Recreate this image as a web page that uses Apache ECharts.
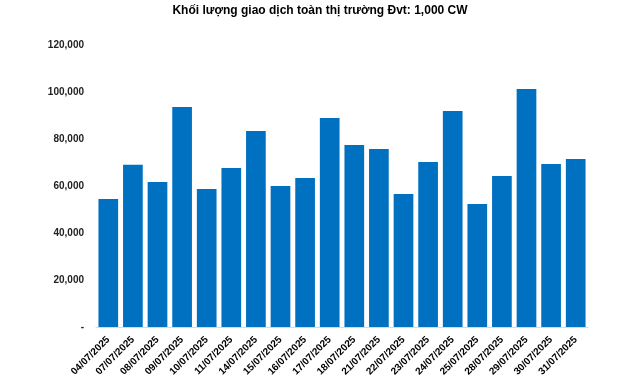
<!DOCTYPE html>
<html><head><meta charset="utf-8">
<script src="https://cdn.jsdelivr.net/npm/echarts@6/dist/echarts.min.js"></script>
<style>html,body{margin:0;padding:0;background:#fff}#c{width:640px;height:384px}</style>
</head><body><div id="c"></div>
<script>
const title = 'Khối lượng giao dịch toàn thị trường Đvt: 1,000 CW';
const categories = ['04/07/2025','07/07/2025','08/07/2025','09/07/2025','10/07/2025','11/07/2025','14/07/2025','15/07/2025','16/07/2025','17/07/2025','18/07/2025','21/07/2025','22/07/2025','23/07/2025','24/07/2025','25/07/2025','28/07/2025','29/07/2025','30/07/2025','31/07/2025'];
const volumes = [54500, 69000, 61700, 93600, 58700, 67700, 83400, 60000, 63400, 88900, 77400, 75700, 56600, 70200, 91900, 52300, 64300, 101300, 69400, 71500];
const yTicks = [0, 20000, 40000, 60000, 80000, 100000, 120000];

const chart = echarts.init(document.getElementById('c'));
const font = 'Liberation Sans, Arial, sans-serif';
chart.setOption({
  animation: false,
  title: {text: title, left: 'center', top: 0, textStyle: {fontFamily: font, fontSize: 12, fontWeight: 'bold', color: '#000'}},
  grid: {left: 96, right: 52, top: 45, bottom: 57},
  xAxis: {
    type: 'category', data: categories,
    axisLine: {lineStyle: {color: '#d9d9d9'}},
    axisTick: {show: false},
    axisLabel: {rotate: 45, interval: 0, fontFamily: font, fontSize: 10, fontWeight: 'bold', color: '#000', margin: 11}
  },
  yAxis: {
    type: 'value', min: yTicks[0], max: yTicks[yTicks.length-1], interval: 20000,
    splitLine: {show: false}, axisLine: {show: false}, axisTick: {show: false},
    axisLabel: {fontFamily: font, fontSize: 10, fontWeight: 'bold', color: '#222', margin: 12,
      formatter: v => v === 0 ? '-' : v.toLocaleString('en-US')}
  },
  series: [{type: 'bar', data: volumes, barCategoryGap: '20%', itemStyle: {color: '#0070C0'}}]
});
</script></body></html>
